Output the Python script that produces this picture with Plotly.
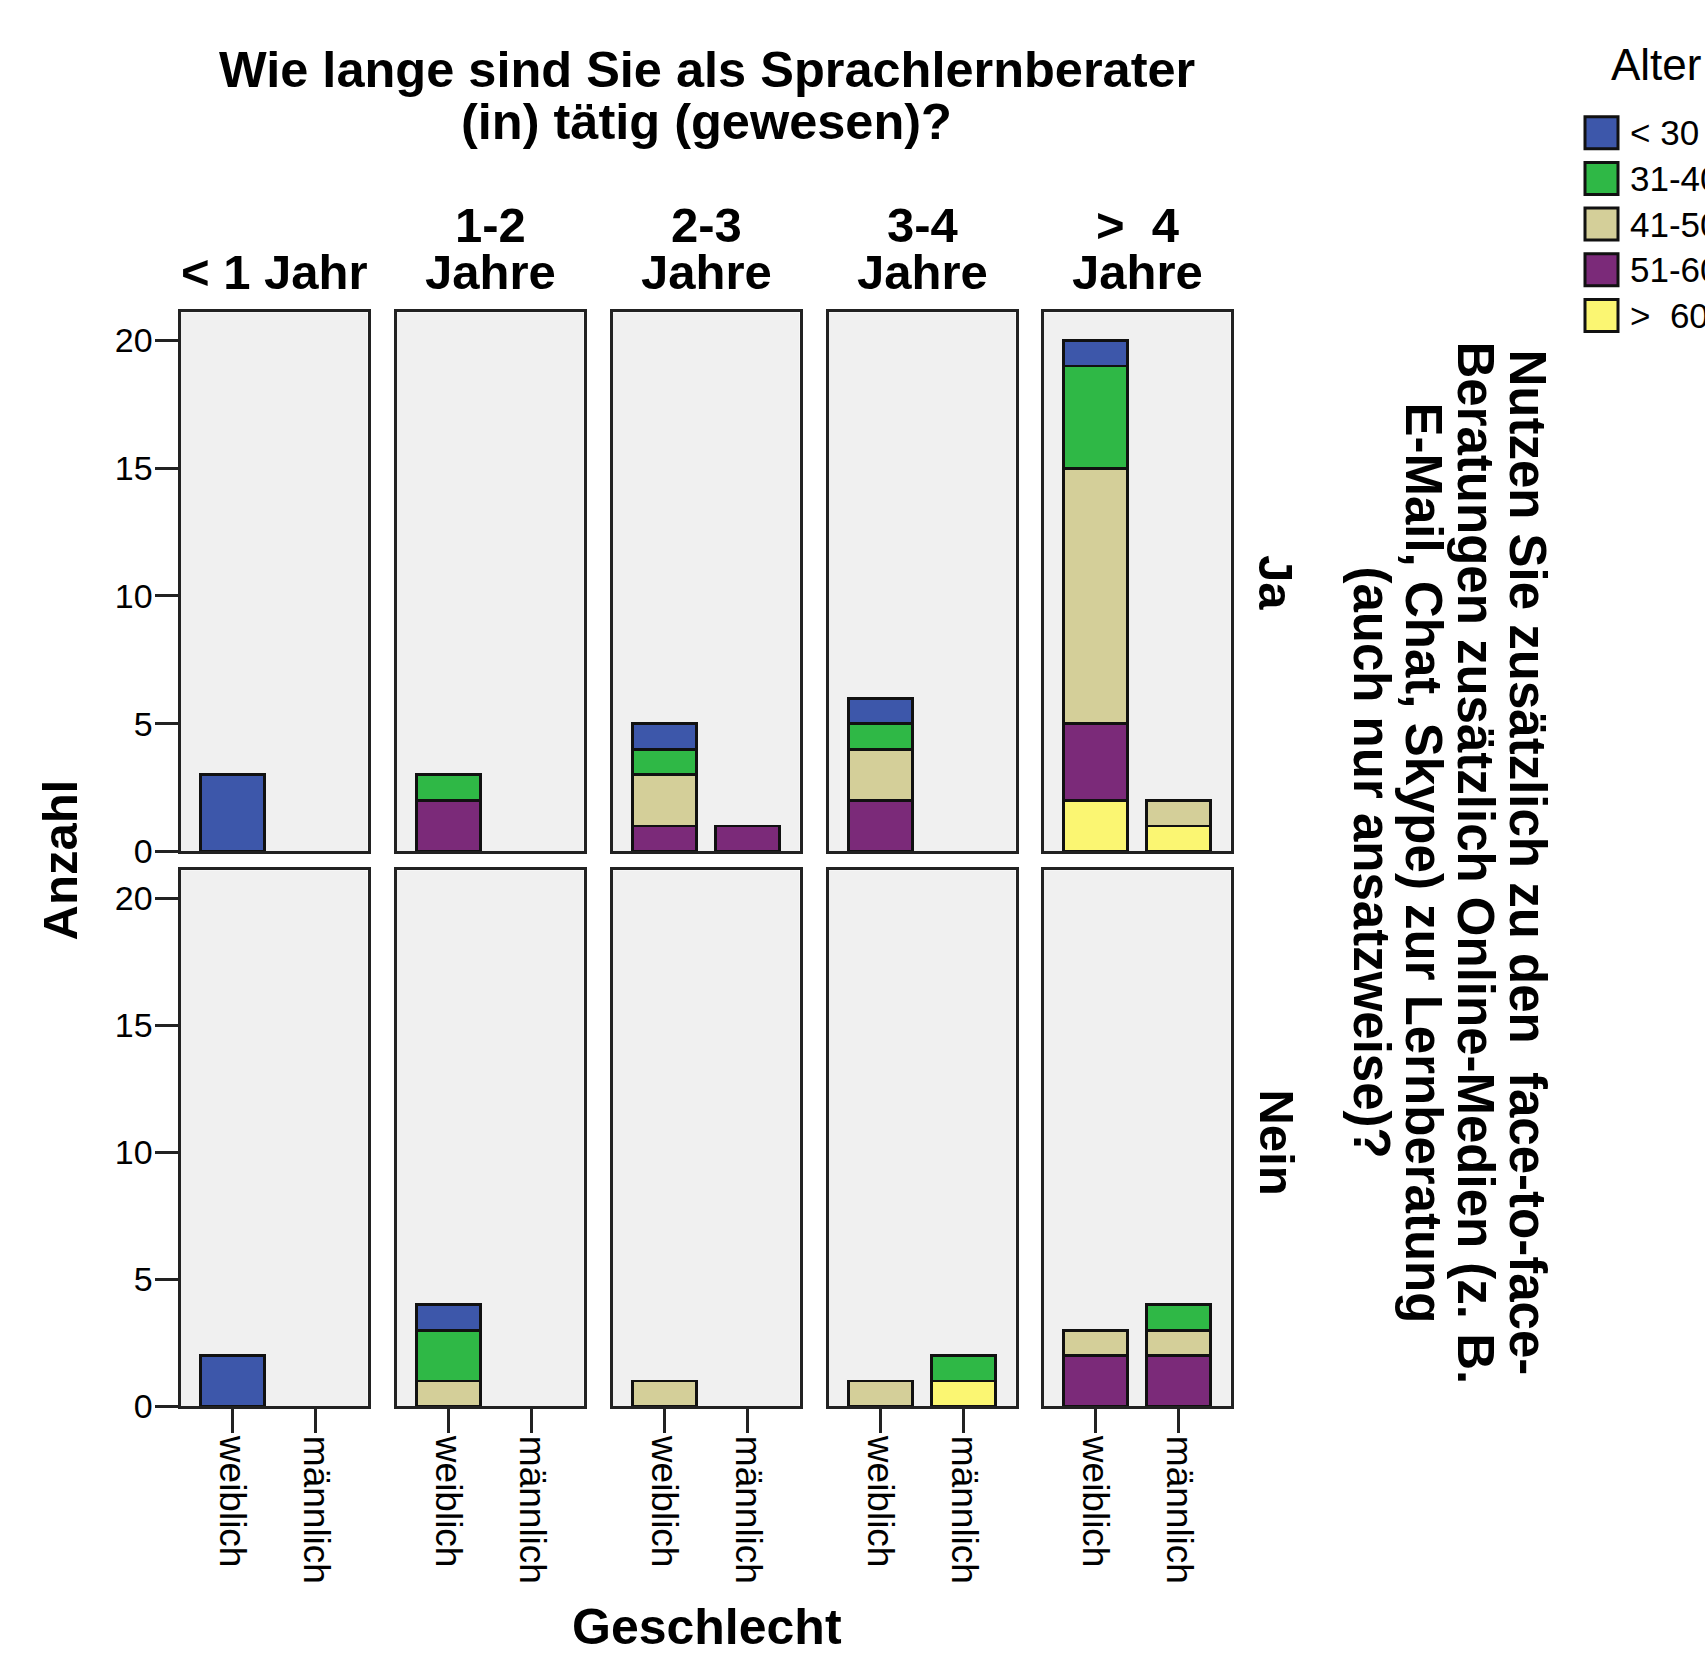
import plotly.graph_objects as go

# ---------------- data ----------------
header_top = ["", "1-2", "2-3", "3-4", ">  4"]
header_bottom = ["< 1 Jahr", "Jahre", "Jahre", "Jahre", "Jahre"]
rows = ["Ja", "Nein"]
genders = ["weiblich", "männlich"]
age_groups = ["< 30", "31-40", "41-50", "51-60", ">  60"]
age_colors = ["#3d57aa", "#2fb846", "#d4cf99", "#7b2a79", "#fbf672"]

# counts per duration: [weiblich, männlich]
lt30_ja = [[3, 0], [0, 0], [1, 0], [1, 0], [1, 0]]
a3140_ja = [[0, 0], [1, 0], [1, 0], [1, 0], [4, 0]]
a4150_ja = [[0, 0], [0, 0], [2, 0], [2, 0], [10, 1]]
a5160_ja = [[0, 0], [2, 0], [1, 1], [2, 0], [3, 0]]
gt60_ja = [[0, 0], [0, 0], [0, 0], [0, 0], [2, 1]]

lt30_nein = [[2, 0], [1, 0], [0, 0], [0, 0], [0, 0]]
a3140_nein = [[0, 0], [2, 0], [0, 0], [0, 1], [0, 1]]
a4150_nein = [[0, 0], [1, 0], [1, 0], [1, 0], [1, 1]]
a5160_nein = [[0, 0], [0, 0], [0, 0], [0, 0], [2, 2]]
gt60_nein = [[0, 0], [0, 0], [0, 0], [0, 1], [0, 0]]

y_ticks = [0, 5, 10, 15, 20]

title_lines = ["Wie lange sind Sie als Sprachlernberater", "(in) tätig (gewesen)?"]
right_title_lines = [
    "Nutzen Sie zusätzlich zu den  face-to-face-",
    "Beratungen zusätzlich Online-Medien (z. B.",
    "E-Mail, Chat, Skype) zur Lernberatung",
    "(auch nur ansatzweise)?",
]

values = {
    "Ja": [lt30_ja, a3140_ja, a4150_ja, a5160_ja, gt60_ja],
    "Nein": [lt30_nein, a3140_nein, a4150_nein, a5160_nein, gt60_nein],
}

# ---------------- layout geometry (reference pixels) ----------------
W, H = 1705, 1654
FIG_H = 1670
col_left = [180.5, 396.5, 612.5, 828.5, 1043.5]
col_w = 187
row_top = [313, 872]
row_bot = [853, 1409]

FONT = "Liberation Sans, Arial, sans-serif"
BIG = 49


def px(x):
    return x / W


def py(y):
    return 1 - y / H


fig = go.Figure()
layout = {}

for r, row in enumerate(rows):
    for c in range(5):
        idx = r * 5 + c + 1
        sfx = "" if idx == 1 else str(idx)
        # stack bottom to top: oldest group first
        for g in reversed(range(len(age_groups))):
            pair = values[row][g][c]
            yv = [v if v else None for v in pair]
            fig.add_trace(go.Bar(
                x=genders, y=yv,
                xaxis="x" + sfx, yaxis="y" + sfx,
                name=age_groups[g],
                marker=dict(color=age_colors[g], line=dict(color="#111111", width=2.8)),
                width=0.77,
                showlegend=False,
                hoverinfo="x+y+name",
            ))
        layout["xaxis" + sfx] = dict(
            domain=[px(col_left[c]), px(col_left[c] + col_w)],
            anchor="y" + sfx,
            type="category", categoryorder="array", categoryarray=genders,
            range=[-0.62, 1.62],
            showgrid=False, zeroline=False,
            showline=True, mirror=True, linecolor="#222222", linewidth=3,
            showticklabels=(r == 1),
            ticks="outside" if r == 1 else "",
            ticklen=24, tickwidth=3, tickcolor="#222222",
            tickangle=90,
            ticklabelstandoff=-5,
            tickfont=dict(family=FONT, size=37, color="black"),
        )
        layout["yaxis" + sfx] = dict(
            domain=[py(row_bot[r]), py(row_top[r])],
            anchor="x" + sfx,
            range=[0, 21.1],
            tickvals=y_ticks,
            showgrid=False, zeroline=False,
            showline=True, mirror=True, linecolor="#222222", linewidth=3,
            showticklabels=(c == 0),
            ticks="outside" if c == 0 else "",
            ticklen=23, tickwidth=3, tickcolor="#222222",
            ticklabelstandoff=-5,
            tickfont=dict(family=FONT, size=34, color="black"),
        )

annotations = []


def add_text(text, x, y, size=BIG, angle=0, xanchor="center", bold=True):
    annotations.append(dict(
        text=("<b>%s</b>" % text) if bold else text,
        x=px(x), y=py(y), xref="paper", yref="paper",
        xanchor=xanchor, yanchor="middle",
        textangle=angle, showarrow=False,
        font=dict(family=FONT, size=size, color="black"),
    ))


# title
add_text(title_lines[0], 707, 70, size=50.5)
add_text(title_lines[1], 706, 122, size=50.5)

# column headers
for c in range(5):
    cx = col_left[c] + col_w / 2
    if header_top[c]:
        add_text(header_top[c], cx, 225)
    add_text(header_bottom[c], cx, 272)

# row labels
add_text(rows[0], 1276, (row_top[0] + row_bot[0]) / 2, angle=90)
add_text(rows[1], 1277, (row_top[1] + row_bot[1]) / 2 + 4, angle=90)

# right title
for line, x in zip(right_title_lines, [1528, 1476, 1424, 1372]):
    add_text(line, x, 864, size=51, angle=90)

# axis titles
add_text("Anzahl", 60, 862, angle=-90)
add_text("Geschlecht", 707, 1630, size=50)

# legend (manual)
add_text("Alter", 1609, 65, size=44, xanchor="left", bold=False)
shapes = []
for i, (lab, col) in enumerate(zip(age_groups, age_colors)):
    cy = 133 + i * 45.75
    shapes.append(dict(
        type="rect", xref="paper", yref="paper",
        x0=px(1585), x1=px(1618), y0=py(cy + 16), y1=py(cy - 16),
        fillcolor=col, line=dict(color="#111111", width=3),
    ))
    add_text(lab, 1628, cy, size=35, xanchor="left", bold=False)

fig.update_layout(
    width=W, height=FIG_H,
    margin=dict(l=0, r=0, t=0, b=0),
    barmode="stack",
    plot_bgcolor="#f0f0f0",
    paper_bgcolor="white",
    showlegend=False,
    annotations=annotations,
    shapes=shapes,
    **layout,
)

fig.write_html(
    "out.html",
    config={"displayModeBar": False},
    post_script="document.body.style.margin='0';document.body.style.overflow='hidden';",
)
